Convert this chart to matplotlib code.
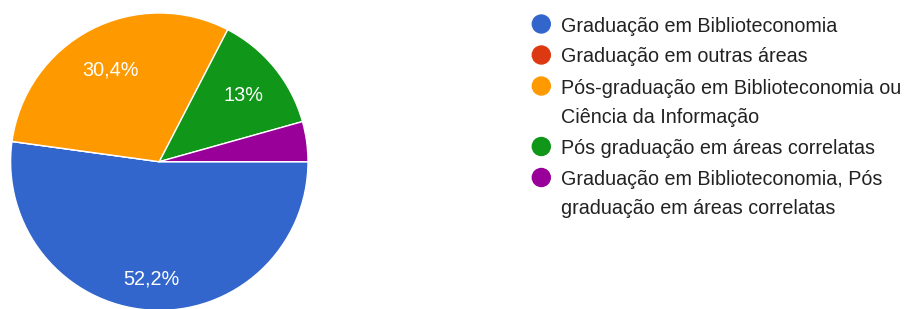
import matplotlib.pyplot as plt
import numpy as np

# Data (responses per option; shown as %)
categories = [
    "Graduação em Biblioteconomia",
    "Graduação em outras áreas",
    "Pós-graduação em Biblioteconomia ou\nCiência da Informação",
    "Pós graduação em áreas correlatas",
    "Graduação em Biblioteconomia, Pós\ngraduação em áreas correlatas",
]
counts = [12, 0, 7, 3, 1]   # 52,2% / 0% / 30,4% / 13% / 4,3%
colors = ["#3366cc", "#dc3912", "#ff9900", "#109618", "#990099"]

W, H = 912, 309
plt.rcParams["font.family"] = ["Liberation Sans", "DejaVu Sans"]


def fmt_pct(p):
    if p < 5:
        return ""
    s = f"{p:.1f}"
    if s.endswith(".0"):
        s = s[:-2]
    return s.replace(".", ",") + "%"


fig = plt.figure(figsize=(W / 100, H / 100), dpi=100)

# pie axes: centre ~(159, 162) px, radius ~149 px
cx, cy, r = 159.3, 161.7, 148.7
ax = fig.add_axes([(cx - r) / W, (H - cy - r) / H, 2 * r / W, 2 * r / H])
wedges, texts, autotexts = ax.pie(
    counts, colors=colors, startangle=0, counterclock=False,
    autopct=fmt_pct, pctdistance=0.75,
    wedgeprops=dict(edgecolor="white", linewidth=1.0),
    textprops=dict(color="white", fontsize=14.3),
)
# label radius differs a little per slice in the original
label_r = [0.78, 0.75, 0.71, 0.73, 0.75]
for w, t, lr in zip(wedges, autotexts, label_r):
    ang = np.deg2rad((w.theta1 + w.theta2) / 2)
    t.set_position((lr * np.cos(ang), lr * np.sin(ang)))
    t.set_va("center_baseline")
ax.set_xlim(-1, 1)
ax.set_ylim(-1, 1)
ax.set_aspect("equal")
ax.axis("off")

# legend drawn in pixel coordinates
lax = fig.add_axes([0, 0, 1, 1])
lax.set_xlim(0, W)
lax.set_ylim(H, 0)
lax.axis("off")
y = 24
for label, c in zip(categories, colors):
    lax.add_patch(plt.Circle((541.3, y), 9, color=c))
    lines = label.split("\n")
    for i, line in enumerate(lines):
        lax.text(561, y + i * 29.5, line, fontsize=14.2, color="#222222",
                 va="center_baseline", ha="left")
    y += 31 + 29.5 * (len(lines) - 1)

fig.savefig("out.png", dpi=100)
plt.close(fig)
